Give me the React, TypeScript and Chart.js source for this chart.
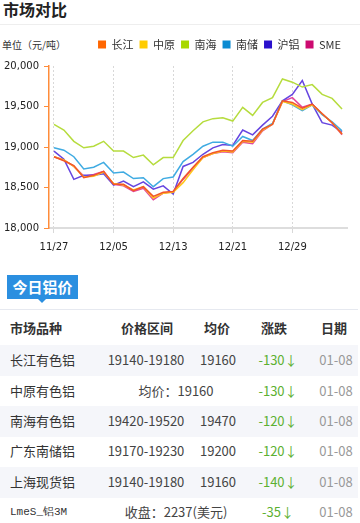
import React, { useEffect, useRef } from 'react';
import { Chart, registerables } from 'chart.js';

Chart.register(...registerables);

// ---- chart data ----
const dates = [
  '11/27', '11/28', '11/29', '11/30', '12/01', '12/04', '12/05', '12/06', '12/07', '12/08',
  '12/11', '12/12', '12/13', '12/14', '12/15', '12/18', '12/19', '12/20', '12/21', '12/22',
  '12/25', '12/26', '12/27', '12/28', '12/29', '01/02', '01/03', '01/04', '01/05', '01/08',
];
const changjiang = [18880, 18830, 18770, 18620, 18650, 18700, 18540, 18540, 18460, 18510, 18390, 18440, 18450, 18610, 18750, 18880, 18930, 18960, 18950, 19080, 19070, 19220, 19280, 19570, 19550, 19480, 19530, 19410, 19300, 19160];
const zhongyuan = [18880, 18840, 18760, 18630, 18640, 18690, 18550, 18530, 18470, 18510, 18370, 18430, 18440, 18560, 18720, 18870, 18920, 18950, 18940, 19070, 19060, 19210, 19280, 19560, 19530, 19460, 19520, 19410, 19300, 19160];
const nanhai = [19280, 19210, 19070, 18990, 19010, 19070, 18950, 18950, 18870, 18900, 18780, 18870, 18870, 19080, 19200, 19310, 19350, 19360, 19320, 19490, 19390, 19550, 19610, 19840, 19800, 19740, 19770, 19650, 19600, 19470];
const nanchu = [18990, 18960, 18880, 18730, 18750, 18810, 18680, 18690, 18610, 18620, 18510, 18610, 18630, 18820, 18910, 19010, 19060, 19060, 19010, 19130, 19080, 19220, 19290, 19570, 19520, 19450, 19520, 19400, 19310, 19200];
const hulv = [18950, 18850, 18600, 18650, 18650, 18670, 18530, 18580, 18510, 18570, 18480, 18520, 18420, 18760, 18810, 18910, 18990, 19030, 19020, 19210, 19150, 19270, 19380, 19570, 19650, 19820, 19530, 19300, 19270, 19180];
const sme = [18880, 18840, 18760, 18640, 18660, 18700, 18540, 18520, 18450, 18490, 18350, 18430, 18450, 18600, 18740, 18870, 18920, 18940, 18930, 19060, 19040, 19200, 19280, 19560, 19610, 19490, 19530, 19410, 19300, 19150];
const seriesNames = ['长江', '中原', '南海', '南储', '沪铝', 'SME'];
const seriesValues = [changjiang, zhongyuan, nanhai, nanchu, hulv, sme];
const legendColors = ['#ff6600', '#ffcc00', '#a8d800', '#0b8bd2', '#2a10cc', '#cc0a70'];
const lineColors = ['#f2552a', '#ffc61a', '#b6dc3e', '#3fabe2', '#6645e0', '#e2479c'];
const yMin = 18000;
const yMax = 20000;
const yStep = 500;

// ---- table data ----
const tableHead = ['市场品种', '价格区间', '均价', '涨跌', '日期'];
const rowNames = ['长江有色铝', '中原有色铝', '南海有色铝', '广东南储铝', '上海现货铝', 'LmeS_铝3M'];
const rowRanges = ['19140-19180', '', '19420-19520', '19170-19230', '19140-19180', ''];
const rowAvgs = ['19160', '', '19470', '19200', '19160', ''];
const rowMerged = ['', '均价：19160', '', '', '', '收盘：2237(美元)'];
const rowChanges = ['-130', '-130', '-120', '-120', '-140', '-35'];
const rowDates = ['01-08', '01-08', '01-08', '01-08', '01-08', '01-08'];

const CJK = '"Noto Sans CJK SC", "Noto Sans", sans-serif';

const legendSpacing = {
  id: 'legendSpacing',
  beforeInit(chart: any) {
    const lg = chart.legend;
    if (!lg) return;
    const orig = lg.fit;
    lg.fit = function () {
      orig.call(this);
      this.height += 6;
    };
  },
};

function PriceChart() {
  const ref = useRef<HTMLCanvasElement | null>(null);
  useEffect(() => {
    if (!ref.current) return;
    const chart = new Chart(ref.current, {
      type: 'line',
      data: {
        labels: dates,
        datasets: seriesNames.map((name, i) => ({
          label: name,
          data: seriesValues[i],
          borderColor: lineColors[i],
          backgroundColor: legendColors[i],
          borderWidth: 1.5,
          pointRadius: 0,
          tension: 0,
          fill: false,
        })),
      },
      options: {
        animation: false,
        responsive: true,
        maintainAspectRatio: false,
        layout: { padding: { left: 0, right: 13, top: 0, bottom: 0 } },
        plugins: {
          tooltip: { enabled: false },
          legend: {
            position: 'top',
            align: 'end',
            labels: {
              boxWidth: 8,
              boxHeight: 8,
              padding: 6,
              color: '#333',
              font: { size: 11, family: CJK },
              generateLabels(c: any) {
                const items = (Chart.defaults.plugins.legend.labels as any).generateLabels(c);
                return items.map((it: any) => ({ ...it, strokeStyle: it.fillStyle, lineWidth: 0 }));
              },
            },
          },
        },
        scales: {
          x: {
            offset: true,
            grid: {
              display: true,
              drawOnChartArea: true,
              drawTicks: true,
              tickLength: 5,
              color: (ctx: any) => (ctx.index % 6 === 0 ? '#d8d8d8' : 'rgba(0,0,0,0)'),
              lineWidth: 1,
            },
            border: { display: true, color: '#dddddd', width: 2, dash: [2, 2] },
            ticks: {
              autoSkip: false,
              maxRotation: 0,
              padding: 8,
              color: '#222',
              font: { size: 10, family: '"DejaVu Sans", sans-serif' },
              callback: (_v: any, i: number) => (i % 6 === 0 ? dates[i] : ''),
            },
            afterFit: (s: any) => {
              s.height = 30;
            },
          },
          y: {
            min: yMin,
            max: yMax,
            grid: {
              display: true,
              drawOnChartArea: false,
              drawTicks: true,
              tickLength: 5,
              tickColor: '#ff8c3a',
            },
            border: { display: true, color: '#ff8c3a', width: 1.5 },
            ticks: {
              stepSize: yStep,
              padding: 5,
              color: '#222',
              font: { size: 10, family: '"DejaVu Sans", sans-serif' },
              callback: (v: any) => Number(v).toLocaleString('en-US'),
            },
            afterFit: (s: any) => {
              s.width = 49;
            },
          },
        },
      },
      plugins: [legendSpacing],
    } as any);
    return () => chart.destroy();
  }, []);
  return (
    <div style={{ position: 'absolute', left: 0, top: 33, width: 360, height: 225 }}>
      <canvas ref={ref} />
    </div>
  );
}

export default function App() {
  const rowTops = [345, 376, 406, 436, 467, 497];
  const cellCenter = (cx: number, top: number, h: number, content: React.ReactNode, extra: any = {}) => (
    <div
      style={{
        position: 'absolute',
        left: cx - 60,
        width: 120,
        top,
        height: h,
        lineHeight: `${h}px`,
        textAlign: 'center',
        whiteSpace: 'nowrap',
        ...extra,
      }}
    >
      {content}
    </div>
  );
  return (
    <div
      style={{
        position: 'absolute',
        left: 0,
        top: 0,
        width: 360,
        height: 523,
        background: '#fff',
        overflow: 'hidden',
        fontFamily: CJK,
        color: '#333',
      }}
    >
      <div style={{ position: 'absolute', left: 3, top: 0, fontSize: 16, fontWeight: 'bold', lineHeight: '19px', color: '#222' }}>
        市场对比
      </div>
      <div style={{ position: 'absolute', left: 0, top: 24, width: 360, height: 1, background: '#eeeeee' }} />
      <div style={{ position: 'absolute', left: 2, top: 38, fontSize: 10, lineHeight: '14px', color: '#333' }}>
        单位（元/吨）
      </div>
      <PriceChart />

      {/* tab */}
      <div
        style={{
          position: 'absolute',
          left: 7,
          top: 275,
          width: 71,
          height: 24,
          background: '#2b8fe0',
          color: '#fff',
          fontWeight: 'bold',
          fontSize: 15,
          lineHeight: '24px',
          textAlign: 'center',
        }}
      >
        今日铝价
      </div>
      <div
        style={{
          position: 'absolute',
          left: 38,
          top: 299,
          width: 0,
          height: 0,
          borderLeft: '4px solid transparent',
          borderRight: '4px solid transparent',
          borderTop: '4px solid #2b8fe0',
        }}
      />
      <div style={{ position: 'absolute', left: 0, top: 309, width: 358, height: 1, background: '#e6e9f0' }} />

      {/* header */}
      <div style={{ position: 'absolute', left: 10, top: 318, height: 20, lineHeight: '20px', fontSize: 13, fontWeight: 'bold', color: '#333' }}>
        {tableHead[0]}
      </div>
      {cellCenter(147, 318, 20, tableHead[1], { fontSize: 13, fontWeight: 'bold' })}
      {cellCenter(217, 318, 20, tableHead[2], { fontSize: 13, fontWeight: 'bold' })}
      {cellCenter(274, 318, 20, tableHead[3], { fontSize: 13, fontWeight: 'bold' })}
      {cellCenter(334, 318, 20, tableHead[4], { fontSize: 13, fontWeight: 'bold' })}

      {rowNames.map((name, i) => {
        const top = rowTops[i];
        const h = 30;
        return (
          <React.Fragment key={name}>
            {i % 2 === 0 && (
              <div style={{ position: 'absolute', left: 0, top, width: 358, height: h + 1, background: '#f5f6fa' }} />
            )}
            <div
              style={{
                position: 'absolute',
                left: 10,
                top,
                height: h,
                lineHeight: `${h}px`,
                fontSize: i === 5 ? 11 : 13,
                fontFamily: i === 5 ? '"Liberation Mono", "DejaVu Sans Mono", monospace' : CJK,
                color: '#333',
                whiteSpace: 'nowrap',
              }}
            >
              {name}
            </div>
            {rowMerged[i]
              ? cellCenter(176, top, h, rowMerged[i], { fontSize: 13, color: '#444' })
              : (
                <>
                  {cellCenter(146, top, h, rowRanges[i], { fontSize: 13, color: '#444' })}
                  {cellCenter(218, top, h, rowAvgs[i], { fontSize: 13, color: '#444' })}
                </>
              )}
            {cellCenter(278, top, h, `${rowChanges[i]}↓`, { fontSize: 13, color: '#5cb031' })}
            {cellCenter(336, top, h, rowDates[i], { fontSize: 13, color: '#999' })}
          </React.Fragment>
        );
      })}
    </div>
  );
}
